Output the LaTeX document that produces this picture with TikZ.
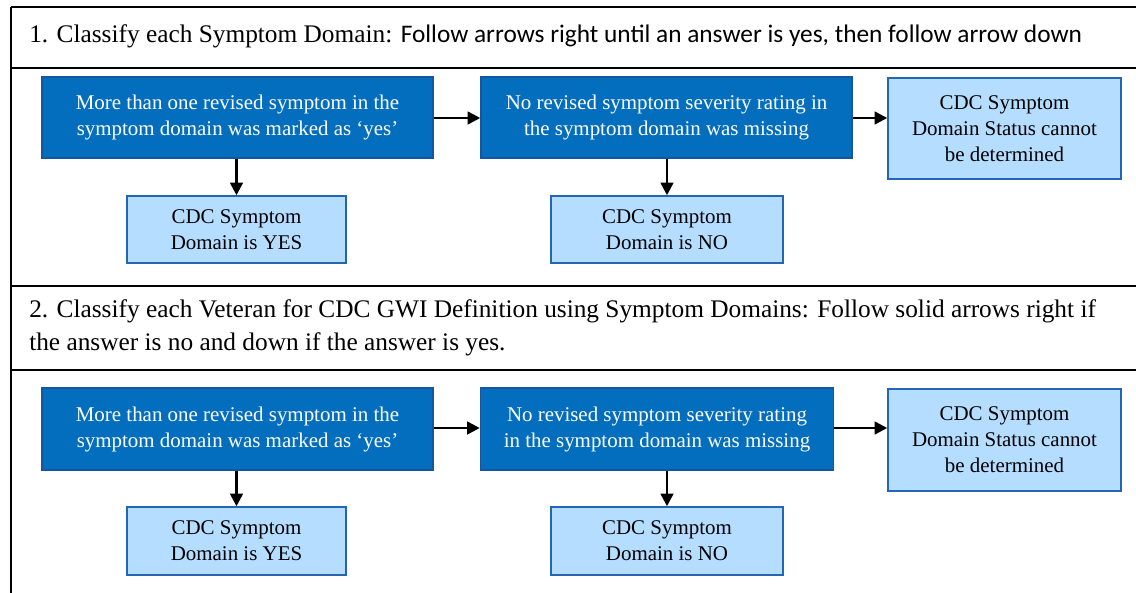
\documentclass[tikz,border=0pt]{standalone}
\usepackage{fontspec}
\setmainfont{Liberation Serif}
\newfontfamily\tnr{Liberation Serif}
\newfontfamily\calibri{Carlito}
\usetikzlibrary{arrows.meta}
\definecolor{darkfill}{RGB}{4,110,190}
\definecolor{darkedge}{RGB}{22,86,160}
\definecolor{lightfill}{RGB}{181,221,255}
\definecolor{lightedge}{RGB}{36,102,182}
\begin{document}
\begin{tikzpicture}[x=0.75pt,y=-0.75pt,
  boxtext/.style={align=center, inner sep=0pt, font=\tnr\fontsize{15.7}{19.5}\selectfont},
  darkbox/.style={boxtext, draw=darkedge, line width=1.1pt, fill=darkfill, text=white},
  lightbox/.style={boxtext, draw=lightedge, line width=1.1pt, fill=lightfill, text=black},
  arr/.style={-{Triangle[length=9.5pt,width=9.5pt]}, line width=1.9pt},
  frame/.style={line width=1.9pt},
  title/.style={anchor=base west, inner sep=0pt, font=\tnr\fontsize{19}{24}\selectfont}]
\useasboundingbox (0,0) rectangle (1136,593);
\fill[white] (0,0) rectangle (1136,593);
% frame
\draw[frame] (11,7) -- (1136,7);
\draw[frame] (11,7) -- (11,593);
\draw[frame] (11,68) -- (1136,68);
\draw[frame] (11,286) -- (1136,286);
\draw[frame] (11,370) -- (1136,370);
% titles
\node[title] (t1) at (29,42) {1. Classify each Symptom Domain: {\calibri Follow arrows right until an answer is yes, then follow arrow down}};
\node[title] (t2a) at (29,317) {2. Classify each Veteran for CDC GWI Definition using Symptom Domains: Follow solid arrows right if};
\node[title] (t2b) at (29,350) {the answer is no and down if the answer is yes.};
% section 1
\node[darkbox, minimum width=293.25pt, minimum height=60.75pt] (a1) at (237.5,117.5) {More than one revised symptom in the\\symptom domain was marked as ‘yes’};
\node[darkbox, minimum width=278.25pt, minimum height=60.75pt] (b1) at (666.5,117.5) {No revised symptom severity rating in\\the symptom domain was missing};
\node[lightbox, minimum width=174.75pt, minimum height=75.75pt] (c1) at (1004.5,128.5) {CDC Symptom\\Domain Status cannot\\be determined};
\node[lightbox, minimum width=164.25pt, minimum height=50.25pt] (y1) at (236.5,229.5) {CDC Symptom\\Domain is YES};
\node[lightbox, minimum width=174pt, minimum height=50.25pt] (n1) at (667,229.5) {CDC Symptom\\Domain is NO};
\draw[arr] (a1.east |- 0,118) -- (b1.west |- 0,118);
\draw[arr] (b1.east |- 0,118) -- (c1.west |- 0,118);
\draw[arr] (a1.south -| y1.north) -- (y1.north);
\draw[arr] (b1.south -| n1.north) -- (n1.north);
% section 2
\node[darkbox, minimum width=293.25pt, minimum height=61.5pt] (a2) at (237.5,429) {More than one revised symptom in the\\symptom domain was marked as ‘yes’};
\node[darkbox, minimum width=264.75pt, minimum height=61.5pt] (b2) at (657,429) {No revised symptom severity rating\\in the symptom domain was missing};
\node[lightbox, minimum width=174.75pt, minimum height=76.5pt] (c2) at (1004.5,440) {CDC Symptom\\Domain Status cannot\\be determined};
\node[lightbox, minimum width=164.25pt, minimum height=51pt] (y2) at (236.5,541) {CDC Symptom\\Domain is YES};
\node[lightbox, minimum width=174pt, minimum height=51pt] (n2) at (667,541) {CDC Symptom\\Domain is NO};
\draw[arr] (a2.east |- 0,428) -- (b2.west |- 0,428);
\draw[arr] (b2.east |- 0,428) -- (c2.west |- 0,428);
\draw[arr] (a2.south -| y2.north) -- (y2.north);
\draw[arr] (b2.south -| n2.north) -- (n2.north);
\end{tikzpicture}
\end{document}
